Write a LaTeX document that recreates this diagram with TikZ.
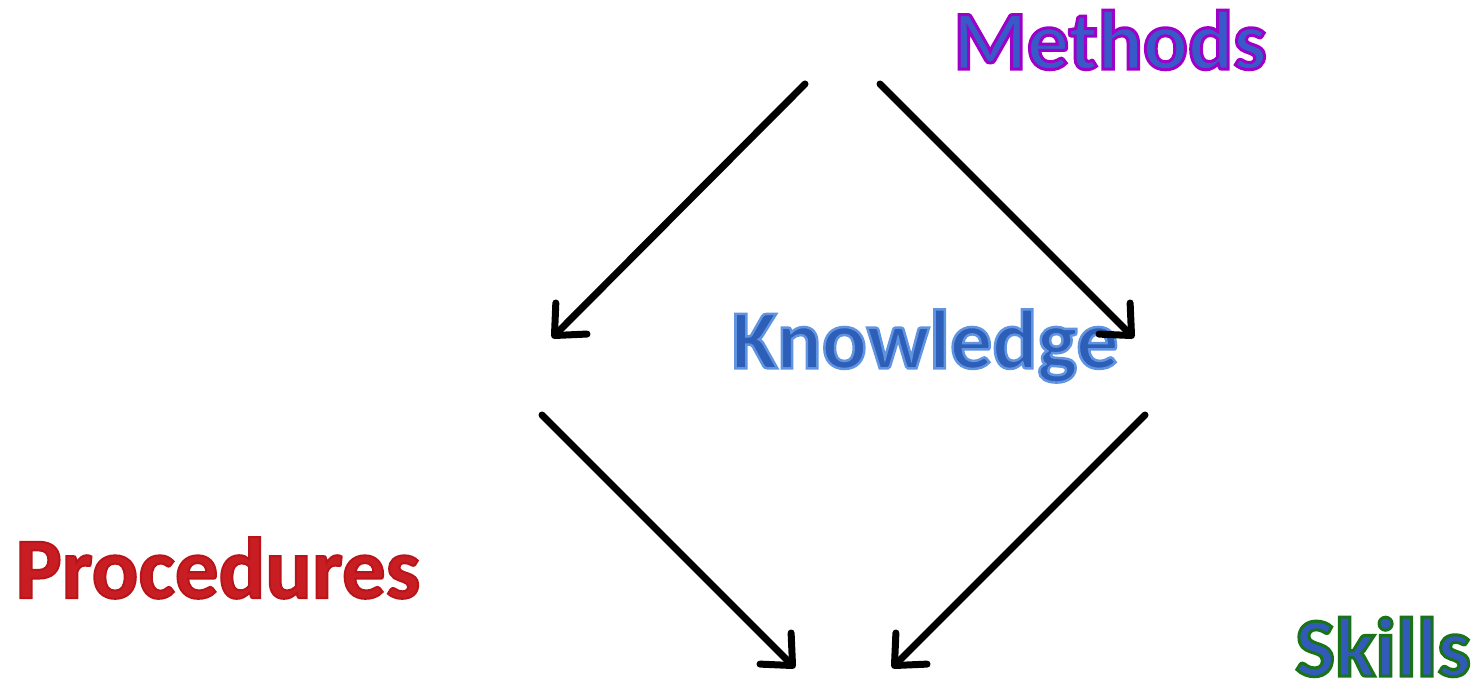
\documentclass[tikz,border=0pt]{standalone}
\usepackage{fontspec}
\setmainfont{Carlito}
\usetikzlibrary{arrows.meta}
\definecolor{methfill}{RGB}{55,90,200}
\definecolor{knowfill}{RGB}{45,95,185}
\definecolor{procfill}{RGB}{200,30,35}
\definecolor{skillfill}{RGB}{50,90,185}
\newcommand{\outlined}[3]{{\special{pdf:literal direct 2 Tr #2 w #1 RG}#3\special{pdf:literal direct 0 Tr}}}
\tikzset{
  lbl/.style={font=\bfseries\fontsize{84}{90}\selectfont, inner sep=0pt, anchor=center},
  conn/.style={line width=7pt, -{Straight Barb[length=24pt,width=44pt,line width=7pt,round]}, line cap=round}
}
\begin{document}
\begin{tikzpicture}[x=1pt,y=-1pt]
\useasboundingbox (0,0) rectangle (1478,684);
\node[lbl, text=methfill] (methods) at (1110,40) {\outlined{0.62 0.0 0.78}{3}{Methods}};
\node[lbl, text=knowfill] (knowledge) at (925,346) {\outlined{0.38 0.58 0.88}{2.5}{Knowledge}};
\node[lbl, text=procfill, font=\bfseries\fontsize{87}{90}\selectfont] (procedures) at (218,568) {\outlined{0.72 0.08 0.1}{2}{Procedures}};
\node[lbl, text=skillfill] (skills) at (1383,647) {\outlined{0.1 0.45 0.1}{3}{Skills}};
\coordinate (a1s) at (805,84);  \coordinate (a1e) at (552,338);
\coordinate (a2s) at (880,84);  \coordinate (a2e) at (1134,338);
\coordinate (a3s) at (542,415); \coordinate (a3e) at (795,668);
\coordinate (a4s) at (1145,415);\coordinate (a4e) at (892,668);
\draw[conn] (a1s) -- (a1e);
\draw[conn] (a2s) -- (a2e);
\draw[conn] (a3s) -- (a3e);
\draw[conn] (a4s) -- (a4e);
\end{tikzpicture}
\end{document}
